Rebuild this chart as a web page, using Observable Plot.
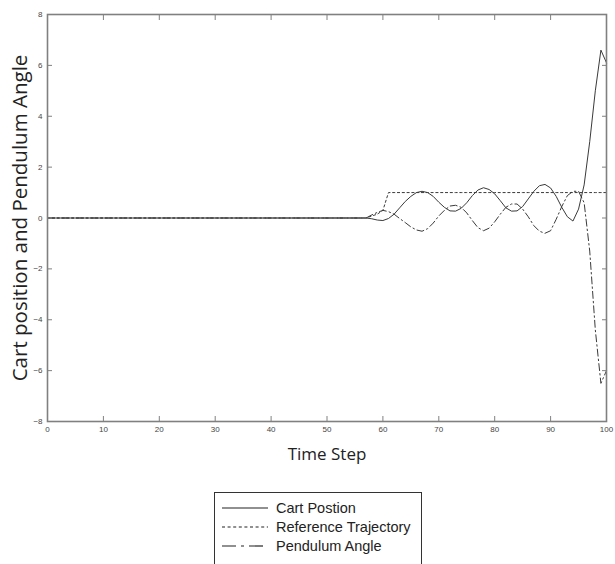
<!DOCTYPE html>
<html><head><meta charset="utf-8">
<script src="https://cdn.jsdelivr.net/npm/d3@7"></script>
<script src="https://cdn.jsdelivr.net/npm/@observablehq/plot@0.6"></script>
<style>
html,body{margin:0;padding:0;overflow:hidden;background:#fff;width:615px;height:564px}
#chart{position:absolute;left:0;top:0}
#legend{position:absolute;left:214px;top:492px;width:208px;height:90px;border:1px solid #333;box-sizing:border-box;font-family:"Liberation Sans",Arial,sans-serif;font-size:14.5px;color:#222;background:#fff}
.row{position:absolute;left:7px;height:19px;display:flex;align-items:center;white-space:nowrap}
.row svg{margin-right:8px}
</style></head><body>
<div id="chart"></div>
<div id="legend"></div>
<script>
const steps = [0,57,58,59,60,61,62,63,64,65,66,67,68,69,70,71,72,73,74,75,76,77,78,79,80,81,82,83,84,85,86,87,88,89,90,91,92,93,94,95,96,97,98,99,100];
const cartPosition = [0,0,-0.03,-0.08,-0.1,-0.02,0.15,0.4,0.65,0.85,1.0,1.05,1.0,0.85,0.62,0.42,0.28,0.27,0.38,0.6,0.88,1.1,1.19,1.12,0.95,0.68,0.4,0.27,0.28,0.45,0.75,1.05,1.27,1.32,1.18,0.85,0.42,0.05,-0.12,0.35,1.3,3.0,5.0,6.6,6.1];
const referenceTrajectory = [0,0,0.08,0.15,0.3,1,1,1,1,1,1,1,1,1,1,1,1,1,1,1,1,1,1,1,1,1,1,1,1,1,1,1,1,1,1,1,1,1,1,1,1,1,1,1,1];
const pendulumAngle = [0,0,0.12,0.22,0.3,0.25,0.15,-0.02,-0.18,-0.35,-0.47,-0.52,-0.42,-0.2,0.08,0.3,0.47,0.5,0.42,0.2,-0.1,-0.38,-0.5,-0.4,-0.15,0.15,0.42,0.55,0.55,0.35,0.05,-0.3,-0.52,-0.6,-0.5,-0.05,0.45,0.88,1.05,1.05,0.6,-1.3,-4.4,-6.5,-6.0];
const seriesNames = ["Cart Postion","Reference Trajectory","Pendulum Angle"];
const xTicks = [0,10,20,30,40,50,60,70,80,90,100];
const yTicks = [-8,-6,-4,-2,0,2,4,6,8];
const xLabel = "Time Step";
const yLabel = "Cart position and Pendulum Angle";

const seriesValues = [cartPosition, referenceTrajectory, pendulumAngle];
const dashes = [null, "2.2,2.6", "7,3,1.5,3"];
const lineColor = "#3a3a3a";
const axisColor = "#808080";

const marks = [];
seriesNames.forEach((name, i) => {
  const rows = steps.map((t, j) => ({t, v: seriesValues[i][j], s: name}));
  marks.push(Plot.line(rows, {x: "t", y: "v", stroke: lineColor, strokeWidth: 1, strokeDasharray: dashes[i]}));
});
marks.push(
  Plot.axisX(xTicks, {anchor: "bottom", tickSize: 0, tickPadding: 5, fontSize: 8, fill: "#444", label: null}),
  Plot.axisX(xTicks, {anchor: "bottom", tickSize: -5, tickFormat: () => "", label: null, stroke: axisColor}),
  Plot.axisX(xTicks, {anchor: "top", tickSize: -5, tickFormat: () => "", label: null, stroke: axisColor}),
  Plot.axisY(yTicks, {anchor: "left", tickSize: 0, tickPadding: 5, fontSize: 8, fill: "#444", label: null}),
  Plot.axisY(yTicks, {anchor: "left", tickSize: -5, tickFormat: () => "", label: null, stroke: axisColor}),
  Plot.axisY(yTicks, {anchor: "right", tickSize: -5, tickFormat: () => "", label: null, stroke: axisColor}),
  Plot.frame({stroke: axisColor, strokeWidth: 1.6}),
  Plot.text([yLabel], {text: d => d, frameAnchor: "left", textAnchor: "middle", dx: -27, rotate: -90, fontSize: 20.5, fontFamily: "Open Sans", fill: "#222"}),
  Plot.text([xLabel], {text: d => d, frameAnchor: "bottom", dy: 38, fontSize: 17, fontFamily: "Open Sans", fill: "#222"})
);

const plot = Plot.plot({
  width: 615, height: 480,
  marginLeft: 47, marginRight: 9, marginTop: 14, marginBottom: 59,
  style: {fontFamily: "Liberation Sans, Arial, sans-serif", background: "#fff", overflow: "visible"},
  x: {domain: [0, 100]},
  y: {domain: [-8, 8]},
  marks
});
document.getElementById("chart").appendChild(plot);

const legend = document.getElementById("legend");
seriesNames.forEach((name, i) => {
  const row = document.createElement("div");
  row.className = "row";
  row.style.top = (5 + i * 19) + "px";
  const dash = dashes[i] ? dashes[i].replace("2.2,2.6", "3,2.6").replace("7,3,1.5,3", "14,5,3,5") : "";
  row.innerHTML = `<svg width="46" height="6"><line x1="0" x2="46" y1="3" y2="3" stroke="#222" stroke-width="1.2" ${dash ? `stroke-dasharray="${dash}"` : ""}/></svg><span>${name}</span>`;
  legend.appendChild(row);
});
</script>
</body></html>
